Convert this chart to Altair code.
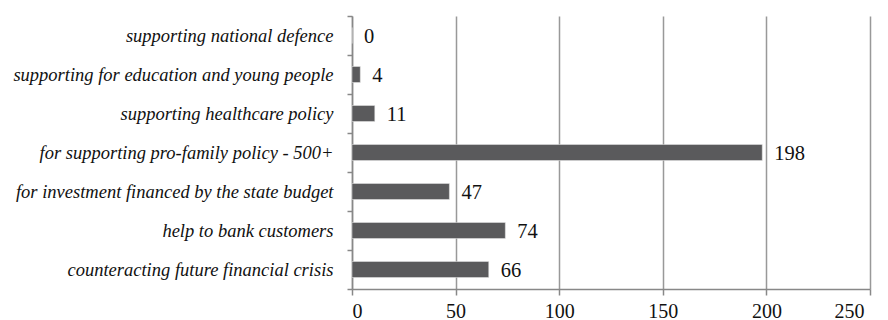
import altair as alt
import pandas as pd

categories = [
    "supporting national defence",
    "supporting for education and young people",
    "supporting healthcare policy",
    "for supporting pro-family policy - 500+",
    "for investment financed by the state budget",
    "help to bank customers",
    "counteracting future financial crisis",
]
values = [0, 4, 11, 198, 47, 74, 66]
x_ticks = [0, 50, 100, 150, 200, 250]

df = pd.DataFrame({"cat": categories, "val": values})

FONT = "Liberation Serif"

y_enc = alt.Y(
    "cat:N",
    sort=categories,
    title=None,
    scale=alt.Scale(paddingInner=0, paddingOuter=0),
    axis=alt.Axis(
        labelFont=FONT,
        labelFontStyle="italic",
        labelFontSize=18.5,
        labelColor="#111111",
        labelPadding=14,
        labelLimit=420,
        tickBand="extent",
        tickSize=5,
        tickColor="#888888",
        domainColor="#888888",
        domainWidth=1.5,
        tickWidth=1.5,
        grid=False,
    ),
)

x_enc = alt.X(
    "val:Q",
    title=None,
    scale=alt.Scale(domain=[0, 250], nice=False),
    axis=alt.Axis(
        values=x_ticks,
        labelFont=FONT,
        labelFontSize=20,
        labelColor="#111111",
        labelPadding=6,
        labelOffset={"condition": {"test": "datum.value == 250", "value": -6}, "value": 0},
        tickSize=6,
        tickColor="#888888",
        tickWidth=1.5,
        domainColor="#888888",
        domainWidth=1.5,
        grid=True,
        gridColor="#999999",
        gridWidth=1.5,
    ),
)

bars = alt.Chart(df).mark_bar(color="#5a5a5c", size=16, stroke="#e8e8e8", strokeWidth=0.5).encode(
    x=x_enc, y=y_enc
)

labels = alt.Chart(df).mark_text(
    align="left", baseline="middle", dx=12, dy=1, font=FONT, fontSize=20.5, color="#111111"
).encode(
    x=alt.X("val:Q"),
    y=alt.Y("cat:N", sort=categories),
    text=alt.Text("val:Q"),
)

chart = (
    alt.layer(bars, labels)
    .properties(
        width=518,
        height=273,
        autosize=alt.AutoSizeParams(type="none"),
        padding={"left": 344, "top": 8, "right": 10, "bottom": 31},
        background="white",
    )
    .configure_view(stroke=None)
)

chart.save("out.html", embed_options={"renderer": "svg", "actions": False})
